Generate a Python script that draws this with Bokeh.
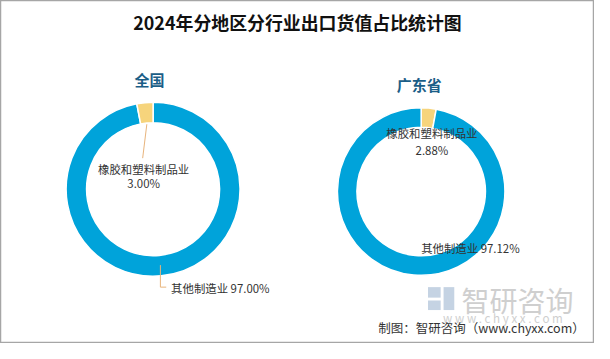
import math
import numpy as np
from bokeh.plotting import figure
from bokeh.models import Range1d, ColumnDataSource
from bokeh.core.properties import value
from bokeh.embed import file_html
from bokeh.resources import INLINE

# ---- data ----
title = "2024年分地区分行业出口货值占比统计图"
regions = ["全国", "广东省"]
cats_nat = ["其他制造业", "橡胶和塑料制品业"]
vals_nat = [97.00, 3.00]
cats_gd = ["橡胶和塑料制品业", "其他制造业"]
vals_gd = [2.88, 97.12]
colors = {"其他制造业": "#00a3da", "橡胶和塑料制品业": "#f6d47c"}
source_note = "制图：智研咨询（www.chyxx.com）"

# reference canvas 610x359 mapped onto a 594x343 figure
RW, RH = 610, 359
W, H = 594, 343
FONT = value("Noto Sans CJK SC")
S = 0.965  # font scale


def fs(px):
    return f"{px * S:.1f}px"


p = figure(width=W, height=H, output_backend="svg", toolbar_location=None,
           x_range=Range1d(0, RW), y_range=Range1d(0, RH), min_border=0)
p.axis.visible = False
p.grid.visible = False
p.outline_line_color = "#a6a6a6"
p.outline_line_width = 1.5
p.background_fill_color = "white"


def fy(ref_y):
    return RH - ref_y


def donut(cx, cy, r_out, r_in, cats, vals):
    tot = float(sum(vals))
    cum = np.concatenate([[0.0], np.cumsum(vals) / tot])
    start = [math.pi / 2 - 2 * math.pi * cum[i] for i in range(len(vals))]
    end = [math.pi / 2 - 2 * math.pi * cum[i + 1] for i in range(len(vals))]
    src = ColumnDataSource(dict(x=[cx] * len(vals), y=[cy] * len(vals),
                                s=start, e=end, c=[colors[c] for c in cats]))
    p.annular_wedge(x="x", y="y", inner_radius=r_in, outer_radius=r_out,
                    start_angle="s", end_angle="e", direction="clock",
                    fill_color="c", line_color="white", line_width=1.5, source=src)
    return [(cum[i] + cum[i + 1]) / 2 for i in range(len(vals))]


# left donut (全国)
lcx, lcy, lro, lri = 156.7, fy(197.5), 89.3, 68.3
mids_l = donut(lcx, lcy, lro, lri, cats_nat, vals_nat)
# right donut (广东省)
rcx, rcy, rro, rri = 432.0, fy(200), 86.0, 66.0
mids_r = donut(rcx, rcy, rro, rri, cats_gd, vals_gd)

# titles
p.text(x=[305], y=[fy(22)], text=[title], text_font=FONT, text_font_size=fs(18.5),
       text_font_style="bold", text_color="#111111", text_align="center", text_baseline="middle")
p.text(x=[153, 430], y=[fy(83), fy(88)], text=regions, text_font=FONT,
       text_font_size=fs(15.5), text_font_style="bold", text_color="#1b5e87",
       text_align="center", text_baseline="middle")

lab_col = "#333333"
line_col = "#e8b47c"

# left labels
th = 2 * math.pi * mids_l[1]
sx, sy = lcx + lri * math.sin(th), lcy + lri * math.cos(th)
p.line(x=[sx, 146], y=[sy, fy(165)], line_color=line_col, line_width=1)
p.text(x=[147, 147], y=[fy(176), fy(191)],
       text=[cats_nat[1], f"{vals_nat[1]:.2f}%"], text_font=FONT, text_font_size=fs(11.8),
       text_color=lab_col, text_align="center", text_baseline="middle")

th = 2 * math.pi * mids_l[0]
rm = (lro + lri) / 2 + 1
sx, sy = lcx + rm * math.sin(th), lcy + rm * math.cos(th)
p.line(x=[sx, sx, sx + 6], y=[sy, fy(300), fy(300)], line_color=line_col, line_width=1)
p.text(x=[sx + 11], y=[fy(301)], text=[f"{cats_nat[0]} {vals_nat[0]:.2f}%"], text_font=FONT,
       text_font_size=fs(11.8), text_color=lab_col, text_align="left", text_baseline="middle")

# right labels
p.text(x=[443, 443], y=[fy(139), fy(156)],
       text=[cats_gd[0], f"{vals_gd[0]:.2f}%"], text_font=FONT, text_font_size=fs(11.8),
       text_color=lab_col, text_align="center", text_baseline="middle")
p.text(x=[432], y=[fy(259)], text=[f"{cats_gd[1]} {vals_gd[1]:.2f}%"], text_font=FONT,
       text_font_size=fs(11.8), text_color=lab_col, text_align="left", text_baseline="middle")

# watermark
p.quad(left=[439, 439, 455], right=[452, 452, 466],
       bottom=[fy(311), fy(324), fy(324)], top=[fy(300), fy(314), fy(300)],
       fill_color="#c5d3e3", line_color=None)
p.text(x=[531], y=[fy(313)], text=["智研咨询"], text_font=FONT, text_font_size=fs(29),
       text_color="#cfcfcf", text_align="center", text_baseline="middle")
p.text(x=[516], y=[fy(332)], text=["w w w . c h y x x . c o m"], text_font=FONT,
       text_font_size=fs(12), text_color="#cfcfcf", text_align="center", text_baseline="middle")
p.text(x=[600], y=[fy(342)], text=[source_note], text_font=FONT, text_font_size=fs(13),
       text_color="#333333", text_align="right", text_baseline="middle")

open("out.html", "w").write(file_html(p, INLINE))
